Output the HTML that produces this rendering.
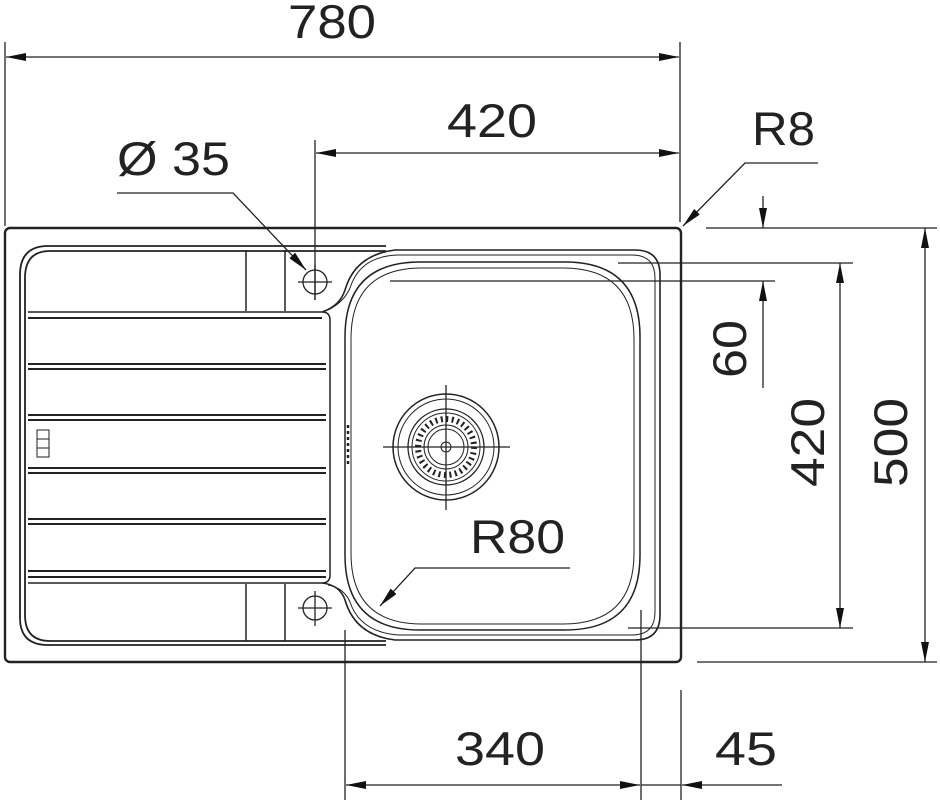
<!DOCTYPE html>
<html><head><meta charset="utf-8"><style>
html,body{margin:0;padding:0;background:#fff;}
svg{display:block;}
text{font-family:"Liberation Sans",sans-serif;fill:#222;}
</style></head><body>
<svg width="940" height="800" viewBox="0 0 940 800" xmlns="http://www.w3.org/2000/svg">
<defs>
<marker id="a" viewBox="0 0 20 8" refX="20" refY="4" markerWidth="20" markerHeight="8" orient="auto-start-reverse" markerUnits="userSpaceOnUse"><path d="M0,0 L20,4 L0,8 Z" fill="#111"/></marker>
</defs>
<g stroke="#222" fill="none" stroke-width="1.3">
<line x1="5" y1="42" x2="5" y2="226"/>
<line x1="680" y1="42" x2="680" y2="222"/>
<line x1="6" y1="57" x2="679" y2="57" marker-start="url(#a)" marker-end="url(#a)"/>
<line x1="315" y1="140" x2="315" y2="300"/>
<line x1="316" y1="153" x2="679" y2="153" marker-start="url(#a)" marker-end="url(#a)"/>
<polyline points="117,193 233,193 306,270" marker-end="url(#a)"/>
<polyline points="818,163 745,163 683,226" marker-end="url(#a)"/>
<line x1="706" y1="228" x2="937" y2="228"/>
<line x1="618" y1="263" x2="853" y2="263"/>
<line x1="390" y1="281" x2="775" y2="281"/>
<line x1="628" y1="628" x2="853" y2="628"/>
<line x1="697" y1="662" x2="937" y2="662"/>
<line x1="763" y1="196" x2="763" y2="228" marker-end="url(#a)"/>
<line x1="763" y1="388" x2="763" y2="281" marker-end="url(#a)"/>
<line x1="840" y1="263" x2="840" y2="628" marker-start="url(#a)" marker-end="url(#a)"/>
<line x1="925" y1="228" x2="925" y2="662" marker-start="url(#a)" marker-end="url(#a)"/>
<line x1="345" y1="630" x2="345" y2="800"/>
<line x1="641" y1="610" x2="641" y2="800"/>
<line x1="681" y1="690" x2="681" y2="800"/>
<line x1="346" y1="785" x2="640" y2="785" marker-start="url(#a)" marker-end="url(#a)"/>
<line x1="782" y1="785" x2="682" y2="785" marker-end="url(#a)"/>
<line x1="641" y1="785" x2="681" y2="785"/>
<polyline points="570,568 415,568 380,606" marker-end="url(#a)"/>

<rect x="5" y="228" width="676" height="434" rx="5" stroke-width="2.4"/>
<path d="M48,246 L386,246 M50,251 L386,251 M48,246 Q20,246 20,275 L20,618 Q20,645 48,645 L386,645 M50,251 Q25,251 25,278 L25,615 Q25,641 50,641 L386,641" stroke-width="1.8"/>
<g stroke-width="1.5">
<path d="M28,312 L322,312 Q330,312 330,320 L330,575 Q330,583 322,583 L28,583"/>
<path d="M28,318 L322,318 M28,364 L326,364 M28,369 L326,369 M28,415 L326,415 M28,420 L326,420 M28,468 L326,468 M28,473 L326,473 M28,519 L326,519 M28,524 L326,524 M28,571 L326,571 M28,577 L326,577" stroke-width="2"/>
<line x1="246" y1="250" x2="246" y2="311"/>
<line x1="285" y1="250" x2="285" y2="311"/>
<line x1="246" y1="584" x2="246" y2="641"/>
<line x1="285" y1="584" x2="285" y2="641"/>
</g>
<rect x="37" y="430" width="12" height="9" stroke-width="1"/>
<rect x="37" y="439" width="12" height="9" stroke-width="1"/>
<rect x="37" y="448" width="12" height="9" stroke-width="1"/>
<circle cx="315" cy="282" r="12"/>
<line x1="298" y1="282" x2="332" y2="282"/><line x1="315" y1="265" x2="315" y2="300"/>
<circle cx="315" cy="608" r="12"/>
<line x1="298" y1="608" x2="332" y2="608"/><line x1="315" y1="591" x2="315" y2="626"/>
<path d="M322,312 Q340,306 345,290 Q355,255 395,250 L635,250 Q660,250 660,275 L660,615 Q660,640 635,640 L395,640 Q355,635 345,600 Q340,585 322,583" stroke-width="1.6"/>
<path d="M328,310 Q344,302 350,288 Q360,256 398,255 L632,255 Q655,255 655,278 L655,612 Q655,635 632,635 L398,635 Q360,632 350,602 Q344,588 328,585" stroke-width="1"/>
<path d="M420,262 L565,262 Q640,262 640,337 L640,555 Q640,630 565,630 L420,630 Q345,630 345,555 L345,337 Q345,262 420,262 Z" stroke-width="1.5"/>
<path d="M422,268 L563,268 Q634,268 634,339 L634,553 Q634,624 563,624 L422,624 Q351,624 351,553 L351,339 Q351,268 422,268 Z" stroke-width="1"/>
<line x1="348" y1="425" x2="348" y2="465" stroke-width="2.5" stroke-dasharray="3,3"/>
<circle cx="446" cy="447" r="53" stroke-width="1.5"/>
<circle cx="446" cy="447" r="48" stroke-width="1"/>
<circle cx="446" cy="447" r="38" stroke-width="1.3"/>
<circle cx="446" cy="447" r="34" stroke-width="1"/>
<circle cx="446" cy="447" r="28" stroke-width="6" stroke-dasharray="2,3.5"/>
<circle cx="446" cy="447" r="22" stroke-width="1"/>
<circle cx="446" cy="447" r="18" stroke-width="1"/>
<circle cx="446" cy="447" r="5" stroke-width="1"/>
<line x1="383" y1="447" x2="510" y2="447"/>
<line x1="446" y1="385" x2="446" y2="510"/>
</g>
<g font-size="47">
<text x="288" y="38" textLength="88" lengthAdjust="spacingAndGlyphs">780</text>
<text x="447" y="137" textLength="90" lengthAdjust="spacingAndGlyphs">420</text>
<text x="117" y="175" textLength="113" lengthAdjust="spacingAndGlyphs">Ø 35</text>
<text x="752" y="145" textLength="63" lengthAdjust="spacingAndGlyphs">R8</text>
<text x="470" y="553" textLength="95" lengthAdjust="spacingAndGlyphs">R80</text>
<text x="455" y="765" textLength="90" lengthAdjust="spacingAndGlyphs">340</text>
<text x="715" y="765" textLength="62" lengthAdjust="spacingAndGlyphs">45</text>
<text transform="translate(746,378) rotate(-90)" textLength="58" lengthAdjust="spacingAndGlyphs">60</text>
<text transform="translate(824,487) rotate(-90)" textLength="89" lengthAdjust="spacingAndGlyphs">420</text>
<text transform="translate(907,487) rotate(-90)" textLength="89" lengthAdjust="spacingAndGlyphs">500</text>
</g>
</svg>
</body></html>
